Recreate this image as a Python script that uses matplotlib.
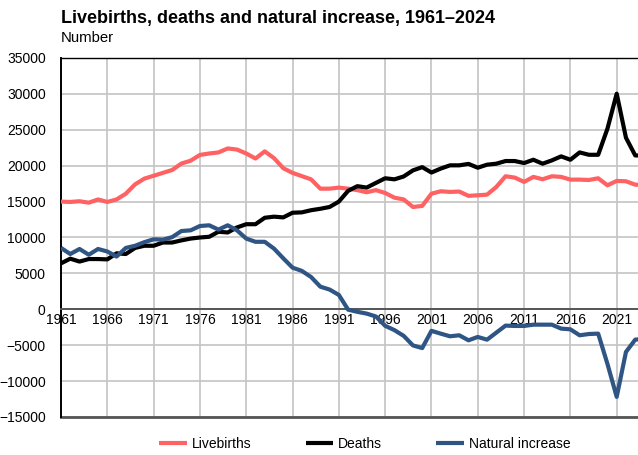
import matplotlib
matplotlib.use("Agg")
import matplotlib.pyplot as plt

years = list(range(1961, 2025))

livebirths = [15000, 14950, 15050, 14850, 15300, 14950, 15300, 16100, 17400, 18200,
              18600, 19000, 19400, 20300, 20700, 21500, 21700, 21850, 22400, 22250,
              21700, 21000, 22000, 21050, 19650, 19000, 18550, 18100, 16800, 16800,
              16950, 16800, 16600, 16300, 16600, 16200, 15550, 15300, 14250, 14400,
              16100, 16440, 16350, 16400, 15800, 15880, 15970, 17040, 18530, 18340,
              17740, 18440, 18110, 18530, 18440, 18060, 18060, 18010, 18250, 17270,
              17880, 17830, 17360, 17300]

deaths = [6400, 7050, 6650, 7000, 7000, 6950, 7800, 7700, 8550, 8850,
          8850, 9300, 9300, 9600, 9850, 10000, 10100, 10800, 10700, 11400,
          11850, 11850, 12750, 12900, 12800, 13450, 13500, 13800, 14000, 14250,
          15000, 16500, 17150, 16950, 17600, 18250, 18100, 18500, 19350, 19800,
          19050, 19600, 20050, 20050, 20250, 19720, 20140, 20280, 20650, 20650,
          20370, 20830, 20280, 20740, 21300, 20830, 21850, 21520, 21520, 25150,
          30030, 23900, 21430, 21400]

natural_increase = [8550, 7700, 8400, 7600, 8400, 8050, 7350, 8550, 8850, 9350,
                    9750, 9700, 10050, 10900, 11000, 11600, 11700, 11100, 11700, 11000,
                    9850, 9400, 9400, 8450, 7100, 5800, 5350, 4500, 3150, 2750,
                    2000, -50, -350, -600, -1000, -2300, -2900, -3700, -5030, -5400,
                    -3000, -3390, -3760, -3620, -4320, -3850, -4230, -3250, -2270, -2320,
                    -2320, -2140, -2140, -2140, -2690, -2790, -3620, -3440, -3390, -7600,
                    -12200, -5940, -4230, -4100]

series_names = ["Livebirths", "Deaths", "Natural increase"]
colors = ["#ff6262", "#000000", "#2f5585"]

title = "Livebirths, deaths and natural increase, 1961\u20132024"
subtitle = "Number"

plt.rcParams["font.family"] = ["Liberation Sans", "DejaVu Sans"]

fig = plt.figure(figsize=(6.38, 4.55), dpi=100)
ax = fig.add_axes([61 / 638, 1 - 417 / 455, 1 - 61 / 638, (417 - 58) / 455])

for vals, name, col in zip([livebirths, deaths, natural_increase], series_names, colors):
    ax.plot(years, vals, color=col, lw=3.0, label=name, solid_joinstyle="round",
            solid_capstyle="butt", zorder=3)

ax.set_xlim(1961, 2023.3)
ax.set_ylim(-15000, 35000)
ax.set_xticks(list(range(1961, 2024, 5)))
ax.set_yticks(list(range(-15000, 35001, 5000)))
ax.grid(True, color="#c4c4c4", lw=1.2, zorder=0)
ax.set_axisbelow(True)

ax.spines["right"].set_visible(False)
ax.spines["top"].set_color("#000000")
ax.spines["top"].set_linewidth(1.0)
ax.spines["left"].set_color("#000000")
ax.spines["left"].set_linewidth(1.4)
ax.spines["bottom"].set_position(("data", 0))
ax.spines["bottom"].set_color("#555555")
ax.spines["bottom"].set_linewidth(1.4)
ax.axhline(-15000, color="#555555", lw=2.0, zorder=2, clip_on=False)

ax.tick_params(axis="both", length=0, labelsize=10, colors="#000000")
ax.tick_params(axis="y", pad=11)
ax.tick_params(axis="x", pad=3)

fig.text(61 / 638, 1 - 18 / 455, title, fontsize=13, fontweight="bold", va="center", ha="left")
fig.text(61 / 638, 1 - 38 / 455, subtitle, fontsize=10.7, va="center", ha="left")

fig.legend(loc="center", bbox_to_anchor=(0.572, 1 - 444 / 455), ncol=3, frameon=False,
           fontsize=10, handlelength=2.0, columnspacing=3.9, handletextpad=0.35)

fig.savefig("out.png", dpi=100)
